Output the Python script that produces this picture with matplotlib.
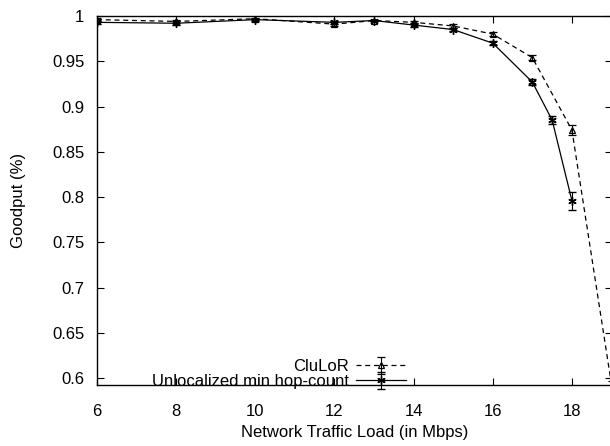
import matplotlib
matplotlib.use("Agg")
import matplotlib.pyplot as plt

plt.rcParams['font.family'] = ['Liberation Sans', 'DejaVu Sans']

clulor_x = [6, 8, 10, 12, 13, 14, 15, 16, 17, 18, 19]
clulor_y = [0.996, 0.994, 0.997, 0.991, 0.995, 0.993, 0.989, 0.980, 0.954, 0.874, 0.593]
clulor_err = [0.002, 0.002, 0.001, 0.002, 0.001, 0.002, 0.002, 0.002, 0.003, 0.006, 0.004]

unloc_x = [6, 8, 10, 12, 13, 14, 15, 16, 17, 17.5, 18]
unloc_y = [0.993, 0.992, 0.996, 0.993, 0.995, 0.990, 0.985, 0.970, 0.927, 0.885, 0.796]
unloc_err = [0.002, 0.002, 0.001, 0.002, 0.001, 0.002, 0.002, 0.002, 0.003, 0.004, 0.010]

xticks = [6, 8, 10, 12, 14, 16, 18]
yticks = [0.6, 0.65, 0.7, 0.75, 0.8, 0.85, 0.9, 0.95, 1.0]
ytick_labels = ["0.6", "0.65", "0.7", "0.75", "0.8", "0.85", "0.9", "0.95", "1"]

fig = plt.figure(figsize=(6.10, 4.46), dpi=100)
ax = fig.add_axes([97/610, 1 - 385/446, (611.5 - 97)/610, (385 - 16)/446])

ax.errorbar(clulor_x, clulor_y, yerr=clulor_err, color='black', linestyle=(0, (4, 3)),
            linewidth=0.9, marker='^', markersize=5, markerfacecolor='none',
            markeredgewidth=0.9, capsize=3, elinewidth=0.8, label='CluLoR')
ax.errorbar(unloc_x, unloc_y, yerr=unloc_err, color='black', linestyle='-',
            linewidth=0.9, marker=(6, 2, 0), markersize=6,
            markeredgewidth=1.0, capsize=3, elinewidth=0.8,
            label='Unlocalized min hop-count')

ax.set_xlim(6, 19)
ax.set_ylim(0.5923, 1.0)
ax.set_xticks(xticks)
ax.set_yticks(yticks)
ax.set_yticklabels(ytick_labels)
ax.tick_params(direction='in', top=True, right=True, labelsize=12, length=5, width=0.8)
ax.tick_params(axis='y', pad=9)
ax.tick_params(axis='x', pad=14)
for s in ax.spines.values():
    s.set_linewidth(1.0)

ax.set_xlabel('Network Traffic Load (in Mbps)', fontsize=12, labelpad=4)
ax.set_ylabel('Goodput (%)', fontsize=12, labelpad=19)

leg = ax.legend(loc='lower right', bbox_to_anchor=(0.607, -0.02), frameon=False, fontsize=12,
                markerfirst=False, handlelength=3.0, handletextpad=0.4, labelspacing=0.0,
                borderaxespad=0.0, borderpad=0.2)
for t in leg.get_texts():
    t.set_ha('right')
leg._legend_box.align = 'right'

fig.savefig('out.png', dpi=100)
